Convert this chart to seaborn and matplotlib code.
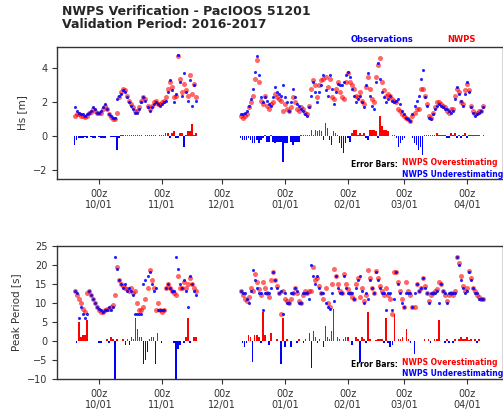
import numpy as np
import pandas as pd
import matplotlib
matplotlib.use("Agg")
import matplotlib.pyplot as plt
import seaborn as sns

# ---- data: daily values, day numbers counted from 2016-10-01 00z ----
days_a = list(range(-12, 49))     # 2016-09-19 .. 2016-11-18
days_b = list(range(70, 191))     # 2016-12-10 .. 2017-04-09

hs_obs_a = [1.7, 1.5, 1.4, 1.3, 1.3, 1.2, 1.3, 1.4, 1.5, 1.7,
            1.6, 1.4, 1.4, 1.5, 1.7, 1.9, 1.6, 1.3, 1.2, 1.1,
            1.1, 2.2, 2.4, 2.5, 2.7, 2.6, 2.3, 2.0, 1.8, 1.6,
            1.4, 1.4, 1.6, 2.0, 2.3, 2.1, 1.7, 1.5, 1.7, 1.9,
            2.0, 1.9, 1.8, 1.9, 2.0, 2.1, 2.6, 3.3, 2.7, 2.0,
            2.5, 4.8, 3.2, 2.4, 3.7, 2.6, 2.1, 3.3, 1.8, 3.0,
            2.1]
hs_nwps_a = [1.2, 1.3, 1.3, 1.2, 1.2, 1.15, 1.2, 1.4, 1.45, 1.6,
             1.5, 1.4, 1.35, 1.4, 1.6, 1.8, 1.6, 1.3, 1.15, 1.05,
             1.05, 1.4, 2.3, 2.6, 2.8, 2.7, 2.4, 2.1, 1.9, 1.7,
             1.5, 1.5, 1.7, 2.1, 2.3, 2.2, 1.8, 1.6, 1.8, 2.0,
             2.1, 1.9, 1.9, 2.0, 2.1, 2.3, 2.8, 3.2, 2.9, 2.3,
             2.4, 4.7, 3.4, 2.6, 3.1, 2.7, 2.4, 3.6, 2.5, 3.1,
             2.3]
hs_obs_b = [1.3, 1.3, 1.4, 1.5, 1.8, 2.2, 2.8, 3.8, 4.7, 3.6,
            2.3, 2.0, 2.3, 2.1, 1.9, 1.8, 2.3, 2.9, 2.6, 2.5,
            2.4, 3.0, 2.3, 2.0, 1.5, 2.0, 2.8, 2.3, 1.9, 1.8,
            1.6, 1.5, 1.3, 1.2, 1.7, 2.4, 3.2, 2.6, 2.0, 2.6,
            3.0, 3.6, 2.7, 2.4, 3.6, 2.8, 1.9, 2.6, 3.1, 3.0,
            3.0, 3.2, 3.6, 3.8, 3.5, 2.8, 2.4, 2.0, 2.2, 2.4,
            2.0, 1.7, 3.0, 3.7, 2.4, 1.8, 1.6, 3.2, 4.3, 3.4,
            2.6, 2.3, 2.0, 2.2, 2.4, 2.1, 2.0, 2.1, 2.2, 1.9,
            1.5, 1.3, 1.1, 1.0, 0.9, 1.3, 1.8, 2.1, 2.4, 3.4,
            3.9, 2.3, 1.8, 1.1, 1.0, 1.3, 1.6, 1.8, 1.9, 1.8,
            1.7, 1.6, 1.6, 1.5, 1.4, 1.5, 2.2, 2.9, 2.5, 2.1,
            1.8, 2.5, 3.2, 2.6, 1.7, 1.4, 1.2, 1.3, 1.4, 1.5,
            1.7]
hs_nwps_b = [1.2, 1.1, 1.2, 1.3, 1.7, 2.0, 2.4, 3.4, 4.5, 3.2,
             2.1, 1.9, 2.4, 1.8, 1.6, 1.9, 2.0, 2.5, 2.3, 2.2,
             2.1, 1.5, 1.9, 1.6, 1.5, 1.7, 2.3, 2.0, 1.6, 1.5,
             1.7, 1.6, 1.4, 1.3, 1.8, 2.8, 3.3, 3.0, 2.3, 3.0,
             3.3, 3.4, 3.5, 2.9, 3.4, 2.3, 2.2, 2.8, 3.2, 2.6,
             2.3, 2.2, 3.2, 3.7, 3.2, 3.0, 2.8, 2.4, 2.3, 2.6,
             2.1, 1.9, 2.9, 3.5, 2.8, 2.2, 2.0, 3.5, 4.2, 4.6,
             3.2, 2.7, 2.4, 2.5, 2.4, 2.2, 2.1, 2.0, 1.6, 1.5,
             1.3, 1.2, 1.1, 1.0, 0.9, 1.2, 1.4, 1.6, 1.6, 2.8,
             2.8, 2.4, 1.9, 1.2, 1.1, 1.4, 1.7, 2.0, 2.0, 1.9,
             1.8, 1.7, 1.5, 1.4, 1.6, 1.6, 2.4, 2.8, 2.6, 2.0,
             1.9, 2.7, 3.1, 2.7, 1.8, 1.5, 1.3, 1.4, 1.5, 1.5,
             1.8]

tp_obs_a = [13, 12.5, 6, 9, 7, 6, 7, 13, 12, 11,
            10, 9, 8.5, 8, 7.5, 8, 8, 9, 8, 9,
            22, 19, 16, 15, 14, 15, 13, 14, 13, 12,
            7, 7, 7, 7, 15, 16, 17, 18, 15, 13,
            14, 8, 8, 8, 8, 14, 15, 14, 13, 13,
            22, 19, 15, 14, 16, 13, 9, 17, 15, 13,
            12]
tp_nwps_a = [13, 12, 11, 10, 8.5, 7.5, 12.5, 13, 12, 11,
             10, 9, 8, 7.5, 7.5, 8, 8.5, 8.5, 9, 9.5,
             12, 19.5, 16, 15, 14.5, 14, 13.5, 13, 14, 12.5,
             13, 10, 8, 8, 9, 11, 14, 18.5, 16, 14,
             8, 10, 8, 7.5, 8, 14, 15, 14, 13, 12.5,
             12, 17, 14, 14, 15.5, 14, 15, 16.5, 15, 14,
             13]
tp_obs_b = [13, 12.5, 12.5, 11, 10, 13, 18.5, 16, 14, 12.5,
            12.5, 8, 12.5, 12.5, 12.5, 14, 18, 16, 14, 12.5,
            13, 7, 12.5, 10, 10, 12.5, 12.5, 14, 13, 10,
            10, 12.5, 12.5, 12.5, 11, 20, 17, 15, 17, 14,
            12.5, 12.5, 10, 9, 8.5, 12.5, 10.5, 17, 14, 12.5,
            12.5, 17, 14, 12.5, 12.5, 12.5, 11, 14, 16, 17,
            13, 10, 12.5, 11, 16, 14, 12.5, 18, 16, 14,
            12.5, 12.5, 8, 12.5, 12.5, 8, 11, 18, 15, 12.5,
            10, 9, 12.5, 12.5, 12.5, 9, 12.5, 15, 13, 14,
            16.5, 14, 12.5, 10, 12.5, 12.5, 12.5, 13, 10, 15,
            13, 12.5, 10, 12.5, 12.5, 12.5, 12.5, 22, 20, 16,
            14, 12.5, 13, 18, 16, 14, 12.5, 12.5, 11, 11,
            11]
tp_nwps_b = [13, 12, 11, 10.5, 11.5, 14, 13, 17.5, 15.5, 13.5,
             12, 15.5, 14, 12.5, 11.5, 16, 18, 16, 14.5, 12.5,
             7, 13, 11, 10.5, 10, 11, 12.5, 14, 12.5, 10.5,
             10, 12, 13, 12.5, 13, 13, 19.5, 16, 16.5, 14.5,
             12.5, 11, 14, 10, 9, 15, 19, 17, 15, 13,
             12.5, 17.5, 15, 13.5, 12.5, 11.5, 11, 15, 16.5, 11.5,
             14, 10.5, 12, 18.5, 16.5, 14, 12.5, 18.3, 16.5, 14.5,
             13, 12, 14, 12, 11, 7, 18, 18, 15.5, 13,
             11, 9, 15.5, 13, 12, 9, 9, 15, 13, 14,
             16.5, 14.5, 12.5, 10.5, 12, 12.5, 13, 13.5, 15.5, 15,
             13, 12, 10.5, 12, 12.5, 12, 13, 22, 20.5, 17,
             14.5, 13, 14, 18.3, 16.5, 14, 13, 12, 11.5, 11,
             11]

tick_dates = ["2016-10-01", "2016-11-01", "2016-12-01", "2017-01-01",
              "2017-02-01", "2017-03-01", "2017-04-01"]
tick_labels = ["00z\n10/01", "00z\n11/01", "00z\n12/01", "00z\n01/01",
               "00z\n02/01", "00z\n03/01", "00z\n04/01"]

base = pd.Timestamp("2016-10-01")


def build(days, obs, nwps):
    t = base + pd.to_timedelta(np.array(days), unit="D")
    obs = np.asarray(obs, float)
    nwps = np.asarray(nwps, float)
    return pd.DataFrame({"time": t, "obs": obs, "nwps": nwps, "err": nwps - obs})


hs = pd.concat([build(days_a, hs_obs_a, hs_nwps_a), build(days_b, hs_obs_b, hs_nwps_b)])
tp = pd.concat([build(days_a, tp_obs_a, tp_nwps_a), build(days_b, tp_obs_b, tp_nwps_b)])

# ---- style ----
sns.set_style("ticks")
plt.rcParams["font.family"] = ["DejaVu Sans"]
plt.rcParams["axes.edgecolor"] = "#333333"
plt.rcParams["xtick.color"] = "#333333"
plt.rcParams["ytick.color"] = "#333333"

W, H = 503, 411
fig = plt.figure(figsize=(W / 100, H / 100), dpi=100)


def px_axes(left, top, right, bottom):
    return fig.add_axes([left / W, 1 - bottom / H, (right - left) / W, (bottom - top) / H])


ax1 = px_axes(57, 47, 502.5, 179)
ax2 = px_axes(57, 245.7, 502.5, 379)

xlim = (pd.Timestamp("2016-09-10 06:00"), pd.Timestamp("2017-04-18 12:00"))

panels = [
    (ax1, hs, (-2.5, 5.25), [-2, 0, 2, 4], "Hs [m]"),
    (ax2, tp, (-10, 25), [-10, -5, 0, 5, 10, 15, 20, 25], "Peak Period [s]"),
]

for ax, df, ylim, yticks, ylabel in panels:
    # error bars: model minus observation
    over = df["err"].clip(lower=0)
    under = df["err"].clip(upper=0)
    ax.bar(df["time"], over, width=0.75, color="red", linewidth=0, zorder=2)
    ax.bar(df["time"], under, width=0.75, color="blue", linewidth=0, zorder=2)

    sns.scatterplot(data=df, x="time", y="nwps", color="red", s=13, alpha=0.6,
                    linewidth=0, ax=ax, zorder=3)
    sns.scatterplot(data=df, x="time", y="obs", color="blue", s=5, alpha=0.85,
                    linewidth=0, ax=ax, zorder=4)

    ax.set_xlim(*xlim)
    ax.set_ylim(*ylim)
    ax.set_yticks(yticks)
    ax.set_xticks(pd.to_datetime(tick_dates))
    ax.set_xticklabels(tick_labels)
    ax.set_xlabel("")
    ax.set_ylabel(ylabel, fontsize=7.5, color="#333333")
    ax.tick_params(labelsize=7, length=3.5, width=0.8, direction="out")
    for sp in ax.spines.values():
        sp.set_visible(True)
        sp.set_linewidth(1.0)

# ---- titles and labels ----
fig.text(62 / W, 1 - 5 / H, "NWPS Verification - PacIOOS 51201\nValidation Period: 2016-2017",
         fontsize=9, fontweight="bold", va="top", ha="left", linespacing=1.0)
fig.text(382 / W, 1 - 40 / H, "Observations", color="blue", fontsize=6,
         fontweight="bold", ha="center", va="center")
fig.text(461 / W, 1 - 40 / H, "NWPS", color="red", fontsize=6,
         fontweight="bold", ha="center", va="center")

for y_over, y_under in [(162.7, 174.3), (362.7, 373.7)]:
    fig.text(398 / W, 1 - (y_over + 1.5) / H, "Error Bars:", color="black", fontsize=5.5,
             fontweight="bold", ha="right", va="center")
    fig.text(402 / W, 1 - y_over / H, "NWPS Overestimating", color="red", fontsize=5.5,
             fontweight="bold", ha="left", va="center")
    fig.text(402 / W, 1 - y_under / H, "NWPS Underestimating", color="blue", fontsize=5.5,
             fontweight="bold", ha="left", va="center")

fig.savefig("out.png", dpi=100)
